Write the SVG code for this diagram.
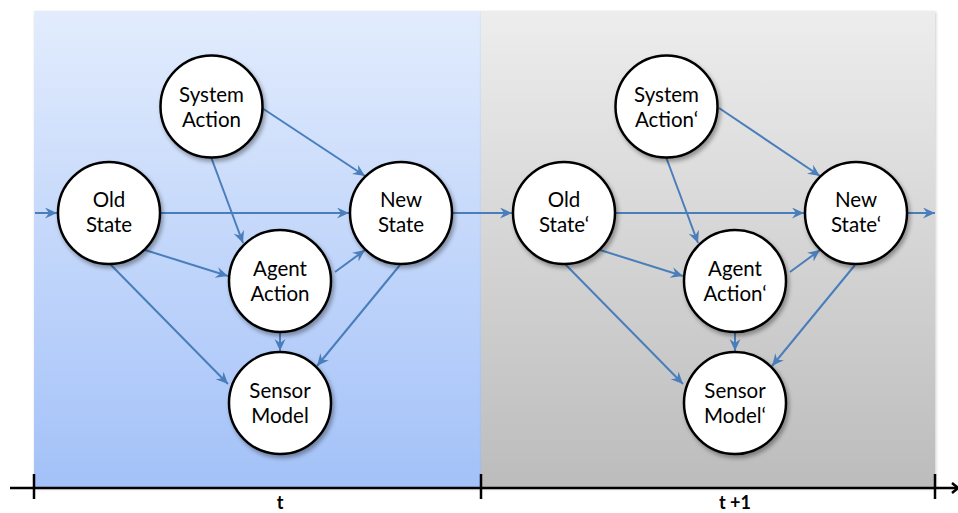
<svg xmlns="http://www.w3.org/2000/svg" width="958" height="513" viewBox="0 0 958 513">
  <defs>
    <linearGradient id="bluePanel" x1="0" y1="0" x2="0" y2="1">
      <stop offset="0" stop-color="#e2ecfd"/>
      <stop offset="1" stop-color="#a3c1f8"/>
    </linearGradient>
    <linearGradient id="grayPanel" x1="0" y1="0" x2="0" y2="1">
      <stop offset="0" stop-color="#ededed"/>
      <stop offset="1" stop-color="#bcbcbc"/>
    </linearGradient>
    <filter id="shadow" x="-20%" y="-20%" width="150%" height="150%">
      <feDropShadow dx="2" dy="3" stdDeviation="2" flood-color="#000" flood-opacity="0.35"/>
    </filter>
    <filter id="panelShadow" x="-5%" y="-5%" width="110%" height="110%">
      <feDropShadow dx="1" dy="1" stdDeviation="1.5" flood-color="#000" flood-opacity="0.2"/>
    </filter>
    <marker id="arrow" markerUnits="userSpaceOnUse" markerWidth="13" markerHeight="12" refX="12" refY="5.5" orient="auto">
      <path d="M0,0 L12,5.5 L0,11 L4,5.5 z" fill="#4a7ebb"/>
    </marker>
  </defs>
  <style>
    .node circle { fill: #ffffff; stroke: #000000; stroke-width: 2.5; filter: url(#shadow); }
    .node text { font-family: Lato, "Open Sans", sans-serif; font-size: 20.5px; fill: #000000; text-anchor: middle; }
    .edge { stroke: #4a7ebb; stroke-width: 2; fill: none; marker-end: url(#arrow); }
    .axis { stroke: #000000; stroke-width: 2.5; fill: none; }
    .axis-label { font-family: Lato, "Open Sans", sans-serif; font-size: 18px; font-weight: bold; text-anchor: middle; }
  </style>

  <!-- time slices -->
  <g id="panels">
    <rect x="34" y="11" width="447" height="477" fill="url(#bluePanel)" filter="url(#panelShadow)"/>
    <rect x="481" y="11" width="454" height="477" fill="url(#grayPanel)" filter="url(#panelShadow)"/>
  </g>

  <!-- time axis -->
  <g id="axis">
    <line class="axis" x1="10" y1="488" x2="958" y2="488"/>
    <path class="axis" d="M952,483 L958,488 L952,493"/>
    <line class="axis" x1="34" y1="474" x2="34" y2="499"/>
    <line class="axis" x1="481" y1="474" x2="481" y2="499"/>
    <line class="axis" x1="935" y1="474" x2="935" y2="499"/>
    <text class="axis-label" x="280" y="509">t</text>
    <text class="axis-label" x="735" y="509">t +1</text>
  </g>

  <!-- connectors -->
  <g id="connectors">
    <line class="edge" x1="35" y1="213" x2="57" y2="213"/>
    <line class="edge" x1="160" y1="213" x2="349" y2="213"/>
    <line class="edge" x1="262" y1="108" x2="365" y2="176"/>
    <line class="edge" x1="211" y1="157" x2="243" y2="243"/>
    <line class="edge" x1="145" y1="250" x2="228" y2="276"/>
    <line class="edge" x1="335" y1="272" x2="365" y2="250"/>
    <line class="edge" x1="110" y1="264" x2="228" y2="384"/>
    <line class="edge" x1="280" y1="333" x2="280" y2="351"/>
    <line class="edge" x1="400" y1="265" x2="317" y2="366"/>
    <line class="edge" x1="452" y1="213" x2="512" y2="213"/>

    <line class="edge" x1="615" y1="213" x2="804" y2="213"/>
    <line class="edge" x1="719" y1="108" x2="820" y2="176"/>
    <line class="edge" x1="666" y1="157" x2="698" y2="243"/>
    <line class="edge" x1="600" y1="250" x2="683" y2="276"/>
    <line class="edge" x1="790" y1="272" x2="820" y2="250"/>
    <line class="edge" x1="565" y1="264" x2="683" y2="384"/>
    <line class="edge" x1="735" y1="333" x2="735" y2="351"/>
    <line class="edge" x1="855" y1="265" x2="772" y2="366"/>
    <line class="edge" x1="907" y1="213" x2="935" y2="213"/>
  </g>

  <!-- slice t -->
  <g id="old-state" class="node">
    <circle cx="109" cy="213" r="51"/>
    <text x="109" y="207">Old</text>
    <text x="109" y="232">State</text>
  </g>
  <g id="system-action" class="node">
    <circle cx="211.5" cy="106.5" r="51"/>
    <text x="211.5" y="102">System</text>
    <text x="211.5" y="127">Action</text>
  </g>
  <g id="new-state" class="node">
    <circle cx="401" cy="213" r="51"/>
    <text x="401" y="207">New</text>
    <text x="401" y="232">State</text>
  </g>
  <g id="agent-action" class="node">
    <circle cx="280" cy="281" r="51"/>
    <text x="280" y="276">Agent</text>
    <text x="280" y="301">Action</text>
  </g>
  <g id="sensor-model" class="node">
    <circle cx="280" cy="403" r="51"/>
    <text x="280" y="398">Sensor</text>
    <text x="280" y="423">Model</text>
  </g>

  <!-- slice t+1 -->
  <g id="old-state-next" class="node">
    <circle cx="564" cy="213" r="51"/>
    <text x="564" y="207">Old</text>
    <text x="564" y="232">State‘</text>
  </g>
  <g id="system-action-next" class="node">
    <circle cx="666.5" cy="106.5" r="51"/>
    <text x="666.5" y="102">System</text>
    <text x="666.5" y="127">Action‘</text>
  </g>
  <g id="new-state-next" class="node">
    <circle cx="856" cy="213" r="51"/>
    <text x="856" y="207">New</text>
    <text x="856" y="232">State‘</text>
  </g>
  <g id="agent-action-next" class="node">
    <circle cx="735" cy="281" r="51"/>
    <text x="735" y="276">Agent</text>
    <text x="735" y="301">Action‘</text>
  </g>
  <g id="sensor-model-next" class="node">
    <circle cx="735" cy="403" r="51"/>
    <text x="735" y="398">Sensor</text>
    <text x="735" y="423">Model‘</text>
  </g>
</svg>
